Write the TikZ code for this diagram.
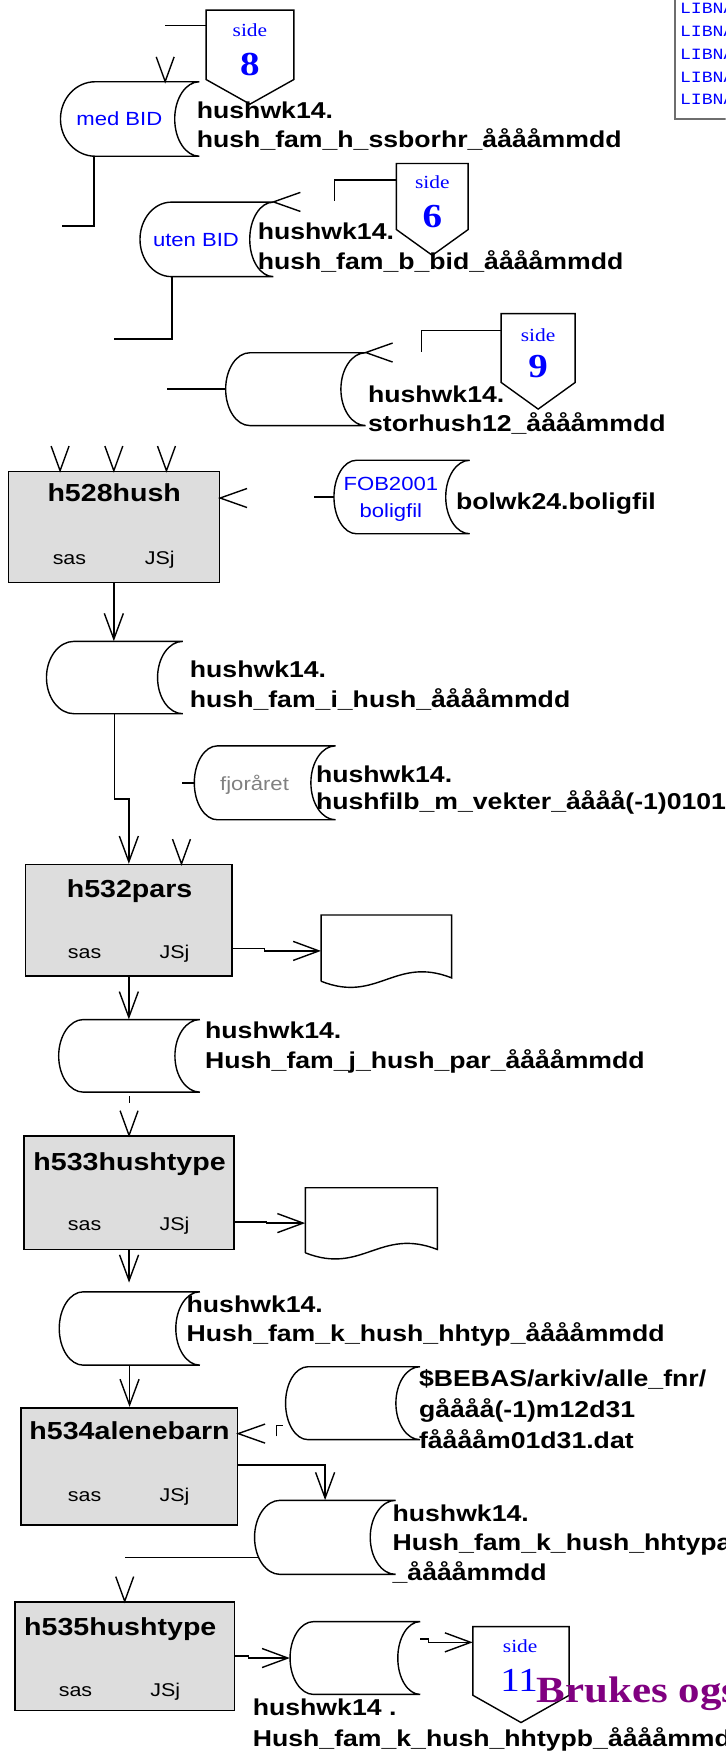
\documentclass[tikz,border=0pt]{standalone}
\usepackage{fontspec}
\setmainfont{Liberation Serif}[FakeStretch=1.16]
\setsansfont{Liberation Sans}[FakeStretch=1.16]
\setmonofont{Liberation Mono}[FakeStretch=1.16]
\usetikzlibrary{arrows.meta,calc}
\definecolor{boxgray}{RGB}{221,221,221}
\definecolor{txtblue}{RGB}{0,0,255}
\definecolor{txtgray}{RGB}{128,128,128}
\definecolor{brpurple}{RGB}{128,0,128}
\definecolor{framegray}{RGB}{110,110,110}
\tikzset{
 ln/.style={draw=black, line width=1.25pt},
 arr/.style={ln, -{Straight Barb[length=23pt,width=17pt]}},
 pbox/.style={draw=black, line width=1.4pt, fill=boxgray, inner sep=0pt},
 hid/.style={inner sep=0pt},
 dtext/.style={anchor=base west, align=left, inner sep=0pt, font=\sffamily\bfseries\fontsize{20.5}{#1}\selectfont},
 dtext/.default=26.5,
 ptitle/.style={anchor=base, inner sep=0pt, font=\sffamily\bfseries\fontsize{22}{26}\selectfont},
 psmall/.style={anchor=base, inner sep=0pt, font=\sffamily\fontsize{16.5}{20}\selectfont},
 blab/.style={anchor=base, inner sep=0pt, text=txtblue, font=\sffamily\fontsize{17}{24}\selectfont},
 sidetxt/.style={anchor=base, inner sep=0pt, text=txtblue, font=\rmfamily\fontsize{16.5}{18}\selectfont},
 sidenum/.style={anchor=base, inner sep=0pt, text=txtblue, font=\rmfamily\bfseries\fontsize{30}{32}\selectfont},
 vdown/.pic={\draw[ln] (-8,-22) -- (0,0) -- (8,-22);},
 vleft/.pic={\draw[ln] (24,-8.5) -- (0,0) -- (24,8.5);},
}
% name, x1, x2, ytop, ybottom, left depth, right depth
\newcommand\cylshape[7]{%
 \node[hid, minimum width={(#3-#2+#6)*1pt}, minimum height={(#5-#4)*1pt}] (#1) at ({(#2-#6+#3)/2},{(#4+#5)/2}) {};
 \draw[ln] (#2,#4) -- (#3,#4)
   .. controls ({#3-0.552*#7},#4) and ({#3-#7},{(#4+#5)/2-0.276*(#5-#4)}) .. ({#3-#7},{(#4+#5)/2})
   .. controls ({#3-#7},{(#4+#5)/2+0.276*(#5-#4)}) and ({#3-0.552*#7},#5) .. (#3,#5)
   -- (#2,#5)
   .. controls ({#2-0.552*#6},#5) and ({#2-#6},{(#4+#5)/2+0.276*(#5-#4)}) .. ({#2-#6},{(#4+#5)/2})
   .. controls ({#2-#6},{(#4+#5)/2-0.276*(#5-#4)}) and ({#2-0.552*#6},#4) .. cycle;}
% name, x1, x2, y1, y2
\newcommand\procbox[5]{%
 \node[pbox, minimum width={(#3-#2)*1pt}, minimum height={(#5-#4)*1pt}] (#1) at ({(#2+#3)/2},{(#4+#5)/2}) {};}
% name, x, w, ytop, h
\newcommand\docshape[5]{%
 \node[hid, minimum width={#3*1pt}, minimum height={(#5+5)*1pt}] (#1) at ({#2+#3/2},{#4+(#5+5)/2}) {};
 \draw[ln] (#2,{#4+#5}) -- (#2,#4) -- ({#2+#3},#4) -- ({#2+#3},{#4+#5-3})
   .. controls ({#2+0.566*#3},{#4+#5-23}) and ({#2+0.43*#3},{#4+#5+20}) .. (#2,{#4+#5});}
% name, x1, x2, ytop, yside, ypoint
\newcommand\offpage[6]{%
 \node[hid, minimum width={(#3-#2)*1pt}, minimum height={(#6-#4)*1pt}] (#1) at ({(#2+#3)/2},{(#4+#6)/2}) {};
 \draw[ln] (#2,#4) -- (#3,#4) -- (#3,#5) -- ({(#2+#3)/2},#6) -- (#2,#5) -- cycle;}
\begin{document}
\begin{tikzpicture}[x=1pt,y=-1pt]
\useasboundingbox (0,0) rectangle (648,1568);
\clip (0,0) rectangle (648,1568);

% LIBNAME panel
\draw[draw=framegray, line width=1.6pt] (602.5,-10) rectangle (700,106);
\node[anchor=base west, inner sep=0pt, align=left, text=txtblue, font=\ttfamily\fontsize{14}{20.45}\selectfont] (libn) at (607,93.7) {LIBNAME\\LIBNAME\\LIBNAME\\LIBNAME\\LIBNAME};

% off-page connectors
\offpage{side8}{184}{262.4}{9}{71}{93}
\offpage{side6}{354}{418}{146}{205}{228}
\offpage{side9}{447.5}{513.6}{280}{341.5}{365.3}
\offpage{side11}{422.3}{508.2}{1452.5}{1513.8}{1538.1}
\node[sidetxt] (s8a) at (223.2,33) {side};
\node[sidenum] (s8b) at (223.2,67) {8};
\node[sidetxt] (s6a) at (386,168.5) {side};
\node[sidenum] (s6b) at (386,203.5) {6};
\node[sidetxt] (s9a) at (480.5,304.5) {side};
\node[sidenum] (s9b) at (480.5,337) {9};
\node[sidetxt] (s11a) at (464.5,1476) {side};
\node[sidenum, font=\rmfamily\fontsize{30}{32}\selectfont] (s11b) at (463.6,1510) {11};

% stored data
\cylshape{medbid}{85}{178}{73}{139.5}{31}{22}
\cylshape{utenbid}{153}{244}{180.5}{247}{28}{21}
\cylshape{storhush}{223}{326.4}{315}{380}{21.5}{22}
\cylshape{fob}{318.2}{419.4}{411}{476.6}{20}{21.4}
\cylshape{hushi}{66}{163.2}{572.7}{637.3}{24.5}{22.5}
\cylshape{fjor}{194.2}{299.6}{666}{732}{20.7}{22}
\cylshape{hushj}{74.4}{178.5}{910.4}{975.2}{22}{22.3}
\cylshape{hushk}{74.4}{178.5}{1153.5}{1219}{21.5}{21.5}
\cylshape{bebas}{275}{375}{1220.4}{1285.5}{20}{21.5}
\cylshape{hushka}{250}{353.3}{1339.7}{1405.8}{22.7}{22.7}
\cylshape{hushkb}{280}{375.2}{1448}{1513}{21}{20}

\node[blab] (medbidt) at (106.6,112) {med BID};
\node[blab] (utenbidt) at (175,220) {uten BID};
\node[blab] (fobt1) at (349,438) {FOB2001};
\node[blab] (fobt2) at (349,461.8) {boligfil};
\node[blab, text=txtgray] (fjort) at (227.3,705.7) {fjoråret};

% processes
\procbox{h528}{7.4}{195.9}{421}{520}
\procbox{h532}{22.7}{207.4}{772}{871.7}
\procbox{h533}{21.5}{209}{1014.5}{1115.7}
\procbox{h534}{18.6}{212}{1257}{1361.7}
\procbox{h535}{13.2}{209.5}{1430.5}{1527.2}
\node[ptitle] (h528t) at (102,448) {h528hush};
\node[psmall] (h528s) at (62,504.5) {sas};
\node[psmall] (h528j) at (142.6,504.5) {JSj};
\node[ptitle] (h532t) at (115.7,801.8) {h532pars};
\node[psmall] (h532s) at (75.6,855.8) {sas};
\node[psmall] (h532j) at (155.8,855.8) {JSj};
\node[ptitle] (h533t) at (115.7,1044.9) {h533hushtype};
\node[psmall] (h533s) at (75.6,1098.9) {sas};
\node[psmall] (h533j) at (155.8,1098.9) {JSj};
\node[ptitle] (h534t) at (115.7,1285.8) {h534alenebarn};
\node[psmall] (h534s) at (75.6,1340.7) {sas};
\node[psmall] (h534j) at (155.8,1340.7) {JSj};
\node[ptitle] (h535t) at (107.4,1460.5) {h535hushtype};
\node[psmall] (h535s) at (67.4,1514.5) {sas};
\node[psmall] (h535j) at (147.5,1514.5) {JSj};

% documents
\docshape{doc1}{286.8}{116.5}{817}{59.2}
\docshape{doc2}{272.7}{117.8}{1060.6}{58.1}

% connectors
\draw[ln] ([yshift=-14.2pt]side8.north west) -- ++(-36.7,0);
\pic at ([xshift=31.5pt]medbid.north) {vdown};
\draw[ln] ([xshift=-32pt]medbid.south) -- ++(0,62) -- ++(-29,0);
\pic at (utenbid.north east) {vleft};
\draw[ln] ([yshift=-15pt]side6.north west) -| ++(-55,19);
\draw[ln] ([xshift=-30.9pt]utenbid.south) -- ++(0,55.6) -- ++(-51.6,0);
\draw[ln] (storhush.west) -- ++(-52,0);
\pic at (storhush.north east) {vleft};
\draw[ln] ([yshift=-15.4pt]side9.north west) -| ++(-70.8,19.1);
\pic at ([xshift=-48pt]h528.north) {vdown};
\pic at (h528.north) {vdown};
\pic at ([xshift=47pt]h528.north) {vdown};
\pic at ([yshift=-24.4pt]h528.north east) {vleft};
\draw[ln] (fob.west) -- ++(-17.3,0);
\draw[arr] (h528.south) -- (h528.south |- hushi.north);
\draw[arr] (hushi.south) |- ([yshift=58pt]h532.north) -- (h532.north);
\draw[ln] (fjor.west) -- ++(-11,0);
\pic at ([xshift=47pt]h532.north) {vdown};
\draw[arr] ([yshift=25.3pt]h532.south east) -- ++(28,0) |- (doc1.west);
\draw[arr] (h532.south) -- (h532.south |- hushj.north);
\draw[ln] ([yshift=-3.5pt]hushj.south) -- ++(0,6);
\pic at (h533.north) {vdown};
\draw[arr] ([yshift=25.3pt]h533.south east) -- ++(28.5,0) |- (doc2.west);
\draw[arr, shorten >=8pt] (h533.south) -- (h533.south |- hushk.north);
\draw[arr] (hushk.south) -- (hushk.south |- h534.north);
\draw[ln] ([xshift=-8pt,yshift=3.2pt]bebas.south west) -- ++(0,-9.5) -- ++(6,0);
\pic at ([yshift=-23.8pt]h534.north east) {vleft};
\draw[arr] ([yshift=-52pt]h534.north east) -| (hushka.north);
\draw[ln] ([xshift=3.5pt,yshift=15.5pt]hushka.south west) -- ++(-119.2,0);
\pic at (h535.north) {vdown};
\draw[arr] ([yshift=-48.8pt]h535.north east) -- ++(11.5,0) |- (hushkb.west);
\draw[arr] ([yshift=-15.8pt]hushkb.north east) -- ++(7,0) |- ([yshift=-14.2pt]side11.north west);

% file names (anchor: baseline of the last line)
\node[dtext] (tmed) at (175.6,132.1) {hushwk14.\\hush\_fam\_h\_ssborhr\_ååååmmdd};
\node[dtext] (tuten) at (230,240.5) {hushwk14.\\hush\_fam\_b\_bid\_ååååmmdd};
\node[dtext] (tstor) at (328.5,385.5) {hushwk14.\\storhush12\_ååååmmdd};
\node[dtext] (tbol) at (407,454.6) {bolwk24.boligfil};
\node[dtext] (thi) at (169.4,631.9) {hushwk14.\\hush\_fam\_i\_hush\_ååååmmdd};
\node[dtext=24] (tfj) at (282,722.6) {hushwk14.\\hushfilb\_m\_vekter\_åååå(-1)0101};
\node[dtext] (thj) at (183,953.9) {hushwk14.\\Hush\_fam\_j\_hush\_par\_ååååmmdd};
\node[dtext] (thk) at (166.5,1198.1) {hushwk14.\\Hush\_fam\_k\_hush\_hhtyp\_ååååmmdd};
\node[dtext=28] (tbeb) at (374,1293.7) {\$BEBAS/arkiv/alle\_fnr/\\gåååå(-1)m12d31\\fååååm01d31.dat};
\node[dtext=26.7] (tka) at (350.4,1411.6) {hushwk14.\\Hush\_fam\_k\_hush\_hhtypa\\\_ååååmmdd};
\node[dtext=27.4] (tkb) at (225.6,1559.2) {hushwk14 .\\Hush\_fam\_k\_hush\_hhtypb\_ååååmmdd};
\node[anchor=base west, inner sep=0pt, text=brpurple, font=\rmfamily\bfseries\fontsize{33}{36}\selectfont] (bruk) at (479.3,1520.3) {Brukes også};
\end{tikzpicture}
\end{document}
